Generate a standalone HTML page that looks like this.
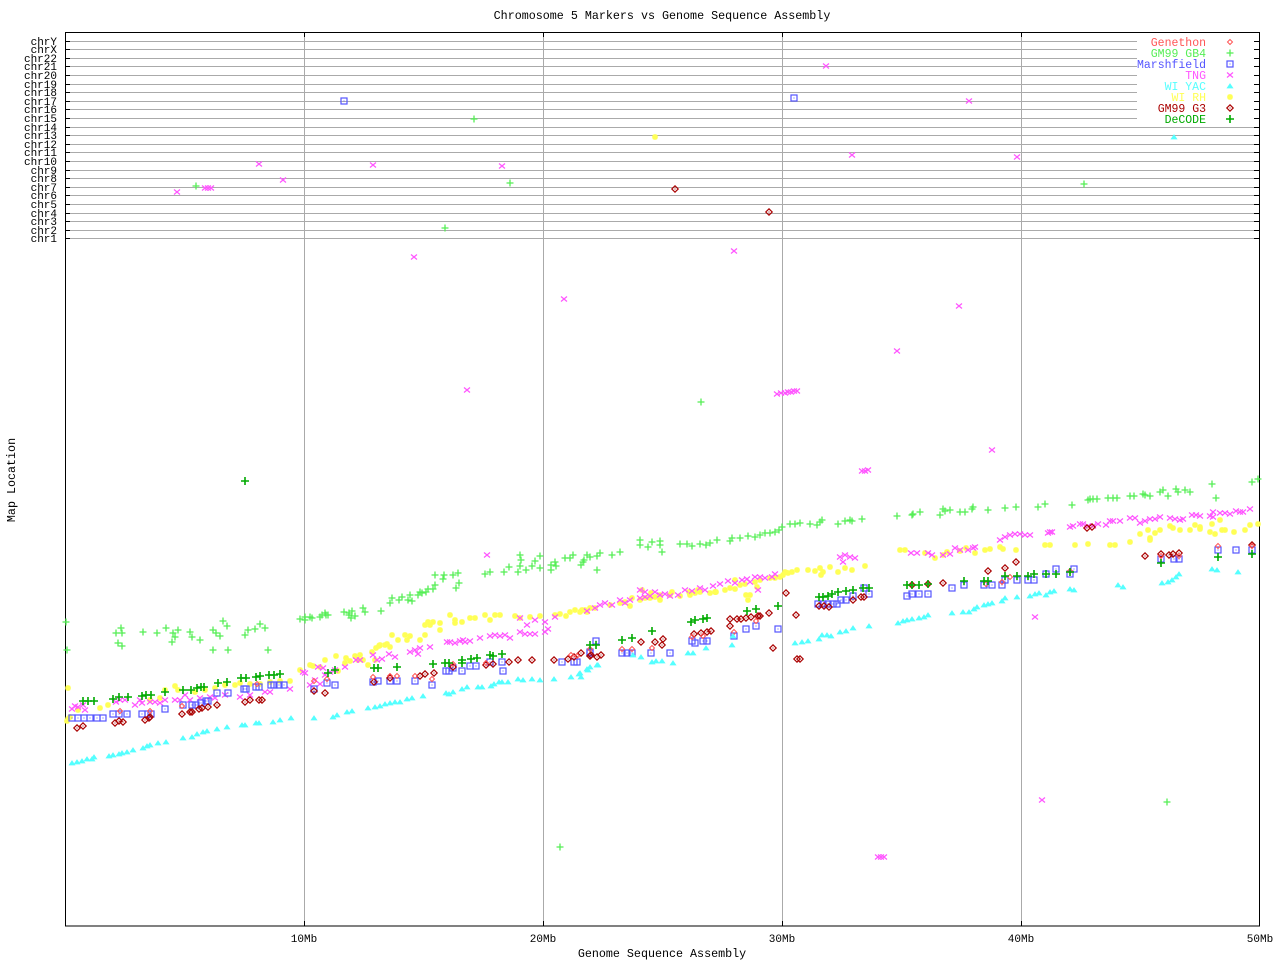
<!DOCTYPE html>
<html>
<head>
<meta charset="utf-8">
<style>
html,body{margin:0;padding:0;background:#fff;}
svg{display:block;}
text{font-family:"Liberation Mono","DejaVu Sans Mono",monospace;}
</style>
</head>
<body>
<svg width="1280" height="960" viewBox="0 0 1280 960" xmlns="http://www.w3.org/2000/svg">
<defs>
<marker id="mGen" markerWidth="1" markerHeight="1" refX="0" refY="0" markerUnits="userSpaceOnUse" overflow="visible"><path d="M0 -2.5L2.5 0L0 2.5L-2.5 0Z" fill="none" stroke="#ff5555" stroke-width="1"/></marker>
<marker id="mGB4" markerWidth="1" markerHeight="1" refX="0" refY="0" markerUnits="userSpaceOnUse" overflow="visible"><path d="M-3.5 0H3.5M0 -3.5V3.5" stroke="#55ee55" stroke-width="1.3"/></marker>
<marker id="mMar" markerWidth="1" markerHeight="1" refX="0" refY="0" markerUnits="userSpaceOnUse" overflow="visible"><rect x="-3" y="-3" width="6" height="6" fill="none" stroke="#5555ff" stroke-width="1.2"/><rect x="-0.5" y="-0.5" width="1" height="1" fill="#5555ff"/></marker>
<marker id="mTNG" markerWidth="1" markerHeight="1" refX="0" refY="0" markerUnits="userSpaceOnUse" overflow="visible"><path d="M-3 -2.5L3 2.5M-3 2.5L3 -2.5" stroke="#ff55ff" stroke-width="1.2"/></marker>
<marker id="mYAC" markerWidth="1" markerHeight="1" refX="0" refY="0" markerUnits="userSpaceOnUse" overflow="visible"><path d="M-2.8 2L0 -2.2L2.8 2Z" fill="#55ffff" stroke="#55ffff" stroke-width="0.8"/></marker>
<marker id="mRH" markerWidth="1" markerHeight="1" refX="0" refY="0" markerUnits="userSpaceOnUse" overflow="visible"><path d="M-3 0H3M0 -3V3M-2.2 -2.2L2.2 2.2M-2.2 2.2L2.2 -2.2" stroke="#ffff55" stroke-width="1.5"/></marker>
<marker id="mG3" markerWidth="1" markerHeight="1" refX="0" refY="0" markerUnits="userSpaceOnUse" overflow="visible"><path d="M0 -3.2L3.2 0L0 3.2L-3.2 0Z" fill="none" stroke="#aa0000" stroke-width="1.2"/><rect x="-0.5" y="-0.5" width="1" height="1" fill="#aa0000"/></marker>
<marker id="mDe" markerWidth="1" markerHeight="1" refX="0" refY="0" markerUnits="userSpaceOnUse" overflow="visible"><path d="M-4 0H4M0 -4V4" stroke="#00aa00" stroke-width="1.6"/></marker>
</defs>

<!-- title -->
<text x="662" y="19" font-size="11.7" text-anchor="middle" fill="#000">Chromosome 5 Markers vs Genome Sequence Assembly</text>

<!-- horizontal chr grid lines -->
<g stroke="#aaaaaa" stroke-width="1" shape-rendering="crispEdges">
<path d="M65 41.5H1137M65 49.5H1137M65 58.5H1137M65 66.5H1137M65 75.5H1137M65 84.5H1137M65 92.5H1137M65 101.5H1137M65 109.5H1137M65 118.5H1137M65 127.5H1260M65 135.5H1260M65 144.5H1260M65 152.5H1260M65 161.5H1260M65 170.5H1260M65 178.5H1260M65 187.5H1260M65 195.5H1260M65 204.5H1260M65 213.5H1260M65 221.5H1260M65 230.5H1260M65 238.5H1260"/>
<path d="M304.5 32V926M543.5 32V926M782.5 32V926M1021.5 32V926"/>
</g>

<!-- frame and ticks -->
<g stroke="#000" stroke-width="1" fill="none" shape-rendering="crispEdges">
<rect x="65.5" y="32.5" width="1194" height="893.5"/>
<path d="M65 41.5h5M65 49.5h5M65 58.5h5M65 66.5h5M65 75.5h5M65 84.5h5M65 92.5h5M65 101.5h5M65 109.5h5M65 118.5h5M65 127.5h5M65 135.5h5M65 144.5h5M65 152.5h5M65 161.5h5M65 170.5h5M65 178.5h5M65 187.5h5M65 195.5h5M65 204.5h5M65 213.5h5M65 221.5h5M65 230.5h5M65 238.5h5"/>
<path d="M1254 41.5h6M1254 49.5h6M1254 58.5h6M1254 66.5h6M1254 75.5h6M1254 84.5h6M1254 92.5h6M1254 101.5h6M1254 109.5h6M1254 118.5h6M1254 127.5h6M1254 135.5h6M1254 144.5h6M1254 152.5h6M1254 161.5h6M1254 170.5h6M1254 178.5h6M1254 187.5h6M1254 195.5h6M1254 204.5h6M1254 213.5h6M1254 221.5h6M1254 230.5h6M1254 238.5h6"/>
<path d="M304.5 32v5M543.5 32v5M782.5 32v5M1021.5 32v5M304.5 926v-5M543.5 926v-5M782.5 926v-5M1021.5 926v-5"/>
</g>

<!-- chr labels -->
<g font-size="11" text-anchor="end" fill="#000">
<text x="57" y="45">chrY</text><text x="57" y="53">chrX</text><text x="57" y="62">chr22</text><text x="57" y="70">chr21</text><text x="57" y="79">chr20</text><text x="57" y="88">chr19</text><text x="57" y="96">chr18</text><text x="57" y="105">chr17</text><text x="57" y="113">chr16</text><text x="57" y="122">chr15</text><text x="57" y="131">chr14</text><text x="57" y="139">chr13</text><text x="57" y="148">chr12</text><text x="57" y="156">chr11</text><text x="57" y="165">chr10</text><text x="57" y="174">chr9</text><text x="57" y="182">chr8</text><text x="57" y="191">chr7</text><text x="57" y="199">chr6</text><text x="57" y="208">chr5</text><text x="57" y="217">chr4</text><text x="57" y="225">chr3</text><text x="57" y="234">chr2</text><text x="57" y="242">chr1</text>
</g>

<!-- x tick labels -->
<g font-size="11" text-anchor="middle" fill="#000">
<text x="304" y="942">10Mb</text><text x="543" y="942">20Mb</text><text x="782" y="942">30Mb</text><text x="1021" y="942">40Mb</text><text x="1260" y="942">50Mb</text>
</g>
<text x="662" y="957" font-size="11.7" text-anchor="middle" fill="#000">Genome Sequence Assembly</text>
<text transform="translate(15,480) rotate(-90)" font-size="11.7" text-anchor="middle" fill="#000">Map Location</text>

<!-- data -->
<g fill="none" stroke="none">
<!-- GM99 GB4 -->
<polyline marker-start="url(#mGB4)" marker-mid="url(#mGB4)" marker-end="url(#mGB4)" points="66,622 67,650 116,633 121,628 122,633 118,643 122,646 143,632 157,633 166,628 173,633 172,642 175,637 178,630 190,632 192,637 200,640 213,630 216,633 220,636 223,621 227,626 213,650 228,650 245,635 248,630 255,629 260,624 265,628 268,650 300,619 305,617 310,617 322,615 325,613 328,615 349,615 352,611 355,616 305,620 312,618 320,617 326,615 344,612 349,613 351,618 363,608 365,612 381,611 390,603 392,598 399,600 402,597 408,600 410,595 412,601 418,595 420,592 422,593 426,592 428,589 433,589 435,585 443,579 435,575 444,575 453,575 458,573 459,583 456,588 485,574 490,572 504,572 509,567 518,572 520,566 521,560 520,555 526,570 532,566 535,561 540,556 540,568 551,570 551,565 555,562 556,566 565,558 570,558 573,555 584,560 587,555 600,553 597,570 581,565 583,562 590,557 597,556 612,555 620,552 640,545 640,540 648,547 652,542 660,545 660,541 662,552 680,544 687,544 692,546 700,544 706,545 710,543 717,540 730,541 732,538 740,538 748,536 755,537 760,535 765,533 770,533 775,532 779,530 782,527 790,524 795,524 800,523 810,524 817,525 820,522 822,520 838,524 845,521 850,520 852,521 862,519 897,516 912,515 913,514 920,512 940,515 943,509 945,511 950,510 960,512 965,512 972,509 973,507 988,510 1005,508 1016,507 1038,507 1045,504 1072,505 1088,500 1090,499 1093,499 1097,499 1108,498 1113,498 1117,498 1130,496 1134,496 1143,494 1145,495 1150,496 1160,492 1163,490 1168,496 1176,489 1178,492 1185,490 1190,492 1212,484 1216,498 1252,482 1258,479"/>
<polyline marker-start="url(#mGB4)" marker-mid="url(#mGB4)" marker-end="url(#mGB4)" points="474,119 196,186 510,183 445,228 1084,184 701,402 560,847 1167,802"/>

<!-- WI RH -->
<polyline marker-start="url(#mRH)" marker-mid="url(#mRH)" marker-end="url(#mRH)" points="67,721 68,719 68,688 70,717 78,710 100,708 108,705 150,700 160,698 165,690 175,686 178,690 195,692 205,690 215,688 225,685 235,685 240,683 250,684 260,684 270,682 280,681 290,681 300,670 310,665 313,666 320,667 325,660 336,656 346,658 338,671 345,663 350,661 355,656 358,660 363,660 368,665 375,660 380,645 385,645 392,635 398,640 405,635 407,640 420,640 425,635 430,625 440,630 450,615 455,623 360,655 372,652 376,648 379,646 387,644 390,647 410,636 425,625 428,622 433,622 440,623 455,620 462,622 470,618 475,618 485,615 490,620 495,615 500,615 515,616 520,618 530,617 540,616 555,615 560,614 566,616 570,612 575,610 580,612 585,610 590,608 595,608 610,605 620,603 625,602 630,606 640,600 645,598 650,598 655,597 660,595 670,595 680,596 690,595 695,593 700,592 710,593 715,592 725,590 730,588 735,589 740,585 745,584 755,582 760,580 770,578 775,578 780,577 783,575 785,572 788,573 792,572 797,570 808,570 815,571 820,568 821,575 823,572 830,567 838,572 845,568 852,570 865,566 582,610 587,612 632,598 642,590 651,593 660,600 672,592 689,592 698,590 716,592 735,580 748,600 750,595 746,595 757,587 900,550 905,550 943,555 947,552 935,558 925,553 960,551 966,548 975,553 985,550 990,549 1000,547 1003,549 1016,550 1045,545 1050,545 1075,545 1088,544 1110,545 1115,545 1130,542 1148,530 1150,540 1150,538 1190,530 1200,529 1210,532 1215,534 1222,530 1225,530 1234,532 1245,530 1250,525 1258,524 1173,528 1170,526 1160,530 1155,533 1140,534 1195,525 1220,520 1200,527 1212,524 1180,530 655,137"/>

<!-- TNG -->
<polyline marker-start="url(#mTNG)" marker-mid="url(#mTNG)" marker-end="url(#mTNG)" points="72,709 75,706 78,707 83,705 85,710 116,702 120,700 125,700 135,705 140,700 142,703 150,702 155,702 160,703 165,700 175,700 180,700 185,695 190,700 200,698 210,697 215,698 225,695 240,697 250,695 265,692 270,692 290,689 310,685 315,680 320,684 325,675 330,672 303,672 305,673 318,667 323,668 335,670 345,667 356,660 360,660 373,655 377,660 382,659 389,654 395,657 410,652 415,650 418,654 420,648 430,647 447,642 450,642 455,643 460,641 463,640 465,642 470,641 480,638 490,636 495,635 500,636 505,635 510,638 520,632 525,634 530,634 535,634 545,632 548,629 520,618 527,625 535,620 545,622 555,617 587,611 595,608 600,605 605,603 612,605 620,600 625,603 630,600 640,598 645,597 650,596 655,592 660,595 665,594 670,596 678,595 685,590 692,591 700,588 705,590 713,586 720,584 728,581 735,583 742,580 747,579 750,582 755,577 760,577 765,578 772,577 775,574 758,590 645,592 640,590 840,557 845,555 850,557 855,558 843,562 911,553 917,553 928,553 932,555 943,555 950,554 955,548 960,550 968,550 973,548 975,547 1000,540 1005,537 1010,535 1015,534 1020,534 1025,535 1030,535 1048,533 1050,532 1052,532 1070,527 1073,526 1080,524 1083,524 1088,526 1093,526 1098,524 1106,525 1110,521 1113,521 1120,521 1130,518 1135,518 1140,523 1145,521 1150,519 1155,519 1160,517 1170,518 1175,519 1180,520 1183,519 1192,515 1196,515 1200,516 1210,516 1213,512 1220,513 1225,513 1230,514 1236,511 1240,512 1243,512 1250,509 1213,517"/>
<polyline marker-start="url(#mTNG)" marker-mid="url(#mTNG)" marker-end="url(#mTNG)" points="259,164 373,165 502,166 283,180 205,188 208,188 211,188 177,192 826,66 969,101 852,155 1017,157 414,257 734,251 564,299 467,390 777,394 781,393 785,393 788,392 791,392 794,391 797,391 959,306 897,351 992,450 862,471 865,471 868,470 487,555 1035,617 1042,800 878,857 881,857 884,857"/>

<!-- Marshfield -->
<polyline marker-start="url(#mMar)" marker-mid="url(#mMar)" marker-end="url(#mMar)" points="72,718 78,718 84,718 90,718 97,718 103,718 113,714 119,714 127,714 142,714 148,714 151,714 165,709 183,705 192,705 196,705 201,703 206,701 208,701 217,693 228,693 244,689 246,689 256,687 259,687 271,685 274,685 279,685 284,685 314,689 327,683 335,685 373,682 378,681 390,681 397,681 415,681 432,685 446,671 449,671 453,668 462,671 470,666 476,666 490,662 502,662 503,671 562,662 574,662 577,662 590,652 596,641 590,653 622,653 627,653 632,653 651,653 670,653 692,641 695,643 703,641 707,641 734,636 746,629 756,626 778,629 818,604 823,604 828,604 833,604 837,604 841,600 846,600 853,596 864,588 869,594 907,596 912,594 919,594 928,594 952,588 964,585 984,585 992,585 1002,585 1005,580 1017,580 1028,580 1034,580 1046,574 1056,569 1070,574 1074,569 1161,559 1174,559 1179,559 1218,550 1236,550 1252,550 344,101 794,98"/>

<!-- GM99 G3 -->
<polyline marker-start="url(#mG3)" marker-mid="url(#mG3)" marker-end="url(#mG3)" points="77,728 83,726 115,723 119,721 123,722 145,720 149,718 150,717 182,714 190,712 192,712 199,709 202,708 208,707 217,705 245,702 250,700 259,700 262,700 314,691 325,693 374,682 390,678 420,676 425,674 434,673 453,667 486,665 493,664 509,662 518,660 532,660 554,660 568,659 574,657 581,653 591,655 597,657 590,656 601,655 641,642 655,642 662,645 663,639 694,634 701,633 707,632 711,631 730,619 730,626 737,619 741,619 746,618 751,617 758,616 760,616 769,613 773,648 786,593 796,615 797,659 800,659 819,606 824,606 829,607 853,600 861,597 864,597 912,585 928,584 943,583 988,571 1005,568 1016,562 1087,528 1092,527 1145,556 1161,554 1169,555 1173,554 1179,553 1252,545 675,189 769,212"/>

<!-- Genethon -->
<polyline marker-start="url(#mGen)" marker-mid="url(#mGen)" marker-end="url(#mGen)" points="120,711 150,711 182,706 257,684 314,681 327,679 373,677 390,676 397,676 415,676 432,679 453,664 486,663 577,656 590,649 622,649 632,649 652,648 692,637 703,636 734,632 756,621 986,584 1002,582 1010,577 1070,571 1161,556 1179,556 1218,546 1252,546 571,655"/>

<!-- DeCODE -->
<polyline marker-start="url(#mDe)" marker-mid="url(#mDe)" marker-end="url(#mDe)" points="83,701 88,701 94,701 113,699 119,697 128,697 142,696 146,695 151,695 165,692 183,690 191,690 197,688 201,687 204,687 218,683 227,682 241,678 246,678 256,677 260,676 269,675 274,675 280,674 328,673 335,670 374,668 378,668 397,667 433,664 445,663 449,663 462,660 462,663 471,659 477,658 490,655 493,656 502,654 590,645 596,645 622,640 632,638 652,631 691,622 695,620 703,619 707,618 747,611 756,609 778,606 819,597 823,597 828,596 832,594 838,592 846,591 853,590 863,588 869,588 907,585 912,585 919,585 928,584 964,581 984,581 988,581 1005,576 1017,576 1028,576 1034,574 1046,574 1056,574 1070,572 1161,563 1218,557 1252,554 245,481"/>

<!-- WI YAC -->
<polyline marker-start="url(#mYAC)" marker-mid="url(#mYAC)" marker-end="url(#mYAC)" points="72,763 77,762 82,761 87,759 92,759 94,757 109,756 113,755 119,754 122,753 127,752 133,750 143,748 147,746 150,745 158,743 166,742 183,738 192,737 197,734 203,732 207,731 217,729 227,727 242,725 245,725 256,723 259,723 273,722 280,720 291,718 314,718 333,717 337,715 347,712 352,711 368,708 375,707 380,706 385,704 390,703 395,702 400,702 407,699 412,698 423,696 446,693 449,694 453,692 462,689 467,687 478,687 482,687 491,686 494,684 499,682 502,682 508,682 518,679 523,680 532,679 540,680 554,679 571,677 579,674 581,677 588,670 598,665 580,673 587,669 590,667 597,665 633,655 641,657 652,662 656,661 662,661 673,663 688,653 693,653 706,648 733,636 732,645 795,643 802,642 808,641 819,639 822,635 827,635 831,636 840,632 846,631 853,628 869,626 898,623 903,621 907,620 912,619 919,618 924,617 928,615 952,613 963,612 969,612 974,609 977,607 984,605 988,604 992,603 1002,601 1005,598 1017,597 1030,596 1035,594 1039,593 1046,595 1050,592 1054,591 1070,589 1074,590 1118,585 1123,587 1162,583 1168,582 1172,580 1176,577 1179,574 1212,569 1217,570 1238,572 1174,137"/>
</g>

<!-- legend -->
<rect x="1137" y="34" width="117" height="90" fill="#fff"/>
<g font-size="11.5" text-anchor="end">
<text x="1206" y="46" fill="#ff5555">Genethon</text>
<text x="1206" y="57" fill="#55ee55">GM99 GB4</text>
<text x="1206" y="68" fill="#5555ff">Marshfield</text>
<text x="1206" y="79" fill="#ff55ff">TNG</text>
<text x="1206" y="90" fill="#55ffff">WI YAC</text>
<text x="1206" y="101" fill="#ffff55">WI RH</text>
<text x="1206" y="112" fill="#aa0000">GM99 G3</text>
<text x="1206" y="123" fill="#00aa00">DeCODE</text>
</g>
<!-- legend markers drawn directly -->
<path d="M1230 39.5L1232.5 42L1230 44.5L1227.5 42Z" fill="none" stroke="#ff5555" stroke-width="1"/>
<path d="M1226.5 53H1233.5M1230 49.5V56.5" stroke="#55ee55" stroke-width="1.3"/>
<rect x="1227" y="61" width="6" height="6" fill="none" stroke="#5555ff" stroke-width="1.2"/><rect x="1229.5" y="63.5" width="1" height="1" fill="#5555ff"/>
<path d="M1227 72.5L1233 77.5M1227 77.5L1233 72.5" stroke="#ff55ff" stroke-width="1.2"/>
<path d="M1227.2 88L1230 83.8L1232.8 88Z" fill="#55ffff" stroke="#55ffff" stroke-width="0.8"/>
<path d="M1227 97H1233M1230 94V100M1227.8 94.8L1232.2 99.2M1227.8 99.2L1232.2 94.8" stroke="#ffff55" stroke-width="1.5"/>
<path d="M1230 104.8L1233.2 108L1230 111.2L1226.8 108Z" fill="none" stroke="#aa0000" stroke-width="1.2"/><rect x="1229.5" y="107.5" width="1" height="1" fill="#aa0000"/>
<path d="M1226 119H1234M1230 115V123" stroke="#00aa00" stroke-width="1.6"/>
<g stroke="#000" shape-rendering="crispEdges"><path d="M1254 41.5h6M1254 49.5h6M1254 58.5h6M1254 66.5h6M1254 75.5h6M1254 84.5h6M1254 92.5h6M1254 101.5h6M1254 109.5h6M1254 118.5h6M1259.5 32V130"/></g>
</svg>
</body>
</html>
